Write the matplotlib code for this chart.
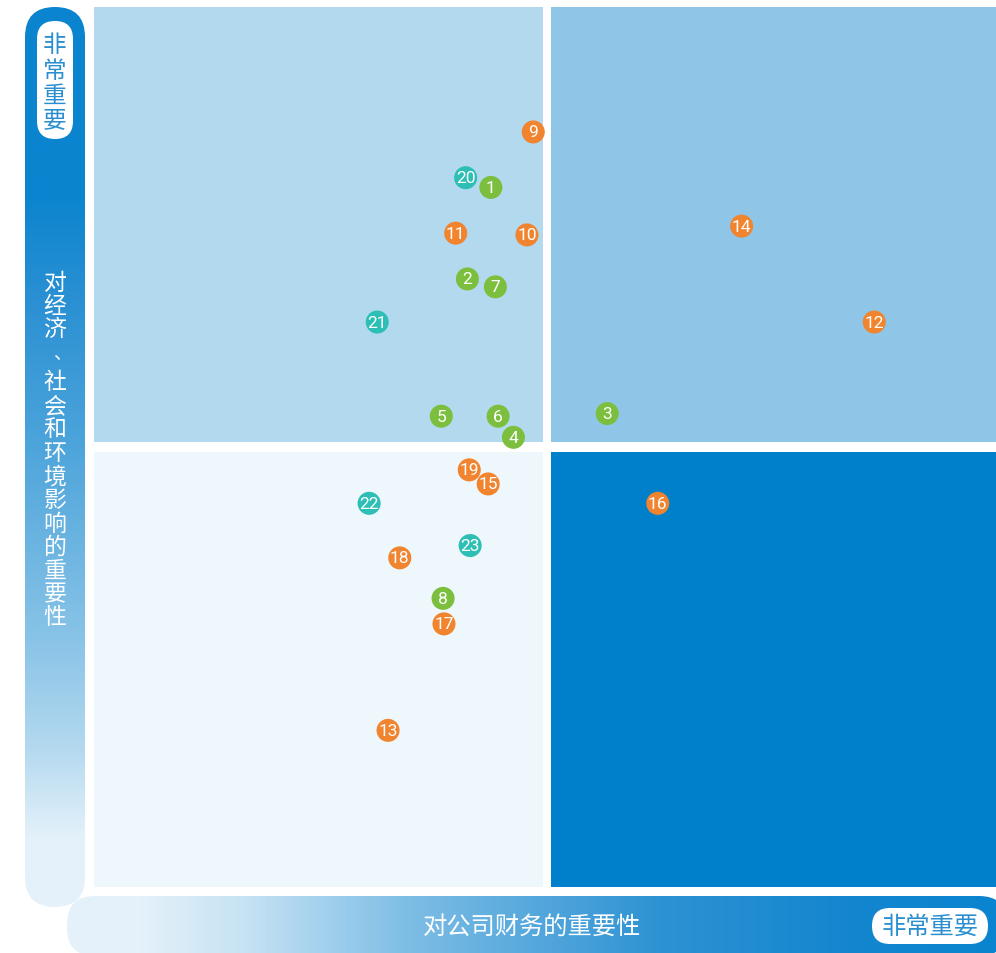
import matplotlib
matplotlib.use("Agg")
import matplotlib.pyplot as plt
import numpy as np
from matplotlib.patches import FancyBboxPatch, Rectangle
from matplotlib.colors import LinearSegmentedColormap

# ---------------- data ----------------
labels = ["1", "2", "3", "4", "5", "6", "7", "8",
          "9", "10", "11", "12", "13", "14", "15", "16", "17", "18", "19",
          "20", "21", "22", "23"]
x_fin = [4.40, 4.14, 5.69, 4.65, 3.85, 4.48, 4.45, 3.87,
         4.87, 4.80, 4.01, 8.65, 3.26, 7.18, 4.37, 6.25, 3.88, 3.39, 4.16,
         4.12, 3.14, 3.05, 4.17]
y_imp = [7.95, 6.91, 5.38, 5.11, 5.35, 5.35, 6.82, 3.28,
         8.58, 7.41, 7.43, 6.42, 1.78, 7.51, 4.58, 4.36, 2.99, 3.74, 4.74,
         8.06, 6.42, 4.36, 3.88]
groups = ["g"] * 8 + ["o"] * 11 + ["t"] * 4
group_colors = {"g": "#7cbf3e", "o": "#f0842f", "t": "#2dbfb5"}

x_title = "对公司财务的重要性"
y_title = "对经济、社会和环境影响的重要性"
hi_label = "非常重要"

W, H = 996, 954
fig = plt.figure(figsize=(W / 100, H / 100), dpi=100)
cjk = ["Noto Sans CJK SC", "DejaVu Sans"]

# overlay axes in pixel coordinates for decorations
bg = fig.add_axes([0, 0, 1, 1])
bg.set_xlim(0, W)
bg.set_ylim(H, 0)
bg.axis("off")

def grad_bar(x0, y0, w, h, r, colors, vertical):
    patch = FancyBboxPatch((x0, y0), w, h, boxstyle=f"round,pad=0,rounding_size={r}",
                           facecolor="none", edgecolor="none")
    bg.add_patch(patch)
    cmap = LinearSegmentedColormap.from_list("c", colors)
    if vertical:
        arr = np.linspace(0, 1, 512).reshape(-1, 1)
    else:
        arr = np.linspace(0, 1, 512).reshape(1, -1)
    im = bg.imshow(arr, cmap=cmap, extent=(x0, x0 + w, y0 + h, y0), aspect="auto",
                   interpolation="bilinear", zorder=1)
    im.set_clip_path(patch)

# left vertical bar: dark at top fading to light at bottom
grad_bar(25, 8, 60, 900, 30,
         [(0.0, "#0a84cf"), (0.213, "#0c85cf"), (0.324, "#2a90d3"),
          (0.491, "#4ea5db"), (0.713, "#8cc5e8"), (0.824, "#b3d9ef"),
          (0.924, "#e4f1fa"), (1.0, "#e6f2fa")], True)
# bottom horizontal bar: light at left to dark at right
grad_bar(67, 897, 940, 60, 28,
         [(0.0, "#e6f2fa"), (0.078, "#e4f1fa"), (0.195, "#c4e1f3"),
          (0.354, "#80bfe6"), (0.631, "#2d92d3"), (0.833, "#1486cf"),
          (1.0, "#0a84cf")], False)

# white pills
bg.add_patch(FancyBboxPatch((37, 22), 36, 118, boxstyle="round,pad=0,rounding_size=18",
                            facecolor="white", edgecolor="none", zorder=2))
bg.add_patch(FancyBboxPatch((872, 909), 116, 36, boxstyle="round,pad=0,rounding_size=18",
                            facecolor="white", edgecolor="none", zorder=2))

# vertical texts
for i, ch in enumerate(hi_label):
    bg.text(55, 46 + i * 25, ch, ha="center", va="center", fontsize=17,
            color="#2a8fd0", family=cjk, zorder=3)
pos = 283
for ch in y_title:
    if ch == "、":
        bg.text(62, 354, ch, ha="center", va="center", fontsize=13,
                color="white", family=cjk, zorder=3)
        pos = 383
        continue
    bg.text(55, pos, ch, ha="center", va="center", fontsize=16.5,
            color="white", family=cjk, zorder=3)
    pos += 23.5
bg.text(532, 927, x_title, ha="center", va="center", fontsize=17.5,
        color="white", family=cjk, zorder=3)
bg.text(930, 927, hi_label, ha="center", va="center", fontsize=17.5,
        color="#2a8fd0", family=cjk, zorder=3)

# main matrix axes
ax = fig.add_axes([94 / W, (H - 888) / H, (996 - 94) / W, (888 - 8) / H])
ax.set_xlim(0, 10)
ax.set_ylim(0, 10)
ax.axis("off")
xs, xg = 5.02, 0.045
ys, yg = 5.0, 0.057
quads = [((0, ys + yg), xs - xg, 10 - ys - yg, "#b3d9ef"),
         ((xs + xg, ys + yg), 10 - xs - xg, 10 - ys - yg, "#8fc6e7"),
         ((0, 0), xs - xg, ys - yg, "#eef7fb"),
         ((xs + xg, 0), 10 - xs - xg, ys - yg, "#0080cb")]
for (xy, w, h, c) in quads:
    ax.add_patch(Rectangle(xy, w, h, facecolor=c, edgecolor="none", zorder=1))

cols = [group_colors[g] for g in groups]
ax.scatter(x_fin, y_imp, s=275, c=cols, edgecolors="none", zorder=3)
for lab, xv, yv in zip(labels, x_fin, y_imp):
    ax.text(xv, yv, lab, ha="center", va="center", fontsize=12.5, color="white",
            family=["Roboto", "DejaVu Sans"], fontweight="normal", zorder=4)

fig.savefig("out.png", dpi=100)
